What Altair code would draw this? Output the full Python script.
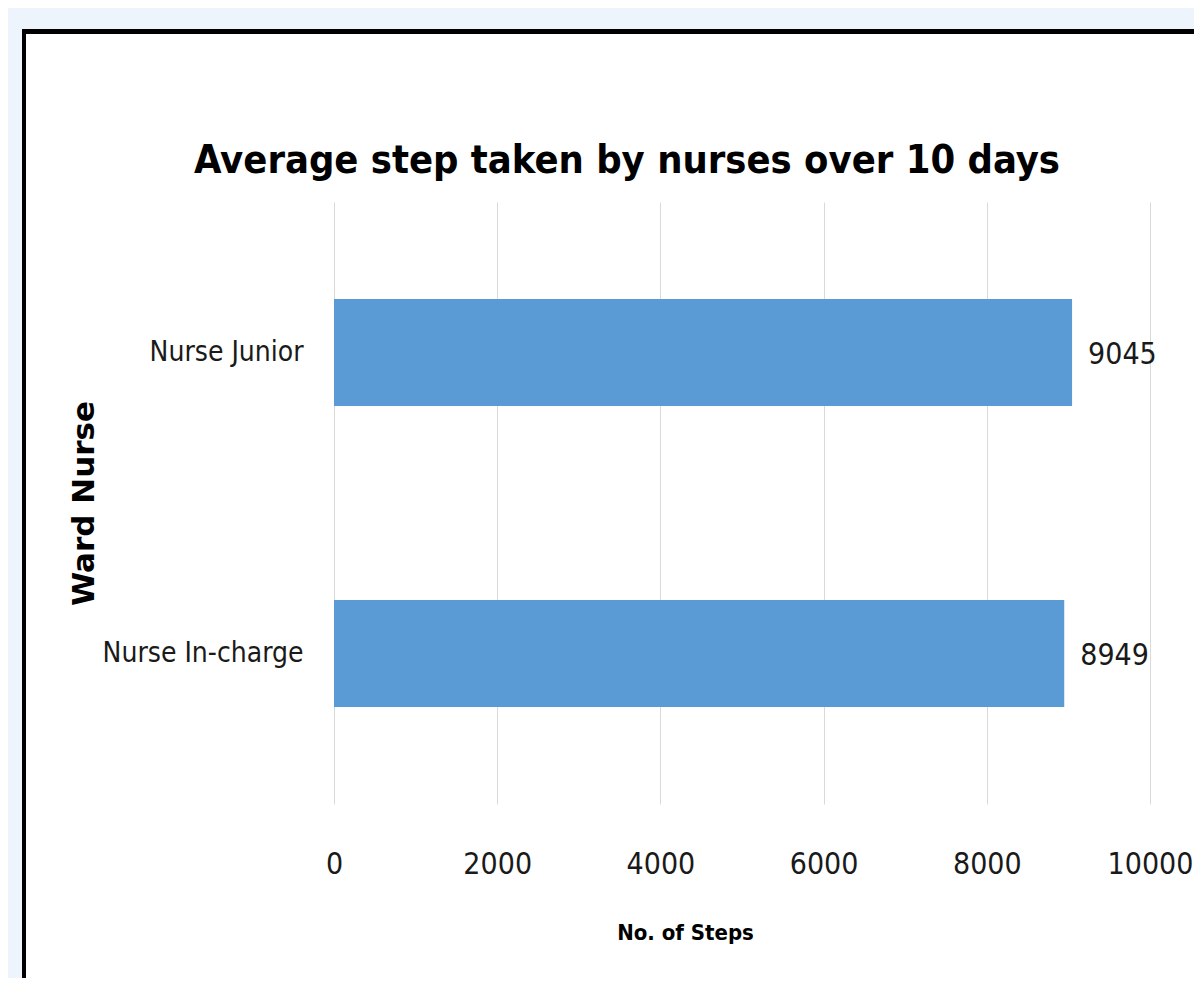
import altair as alt
import pandas as pd

categories = ["Nurse Junior", "Nurse In-charge"]
steps = [9045, 8949]
x_ticks = [0, 2000, 4000, 6000, 8000, 10000]
title_text = "Average step taken by nurses over 10 days"

df = pd.DataFrame({"nurse": categories, "steps": steps})
one = pd.DataFrame({"k": [0]})

NARROW = "DejaVu Sans Condensed, Liberation Sans Narrow, sans-serif"
BG = "#EDF4FB"
W, H = 816, 602
R, B = 860, 776

def box(x, x2, y, y2, color):
    return alt.Chart(one).mark_rect(color=color, strokeWidth=0).encode(
        x=alt.value(x), x2=alt.value(x2), y=alt.value(y), y2=alt.value(y2)
    )

deco = [
    box(-326, -312, -194, B, BG),
    box(-326, R, -194, -173, BG),
    box(-312, -308, -173, B, "#000000"),
    box(-312, R, -173, -168, "#000000"),
]

title = alt.Chart(one).mark_text(
    text=title_text, font=NARROW, fontSize=39.5, fontWeight="bold",
    align="center", baseline="alphabetic", color="#000000"
).encode(x=alt.value(293), y=alt.value(-29))

base = alt.Chart(df)

bars = base.mark_bar(size=107, color="#5B9BD5").encode(
    y=alt.Y("nurse:N", sort=categories, scale=alt.Scale(paddingInner=0, paddingOuter=0),
            axis=alt.Axis(title="Ward Nurse", ticks=False, domain=False, labelPadding=31,
                          labelFont=NARROW, labelFontSize=28, labelColor="#1a1a1a",
                          labelLimit=0,
                          titleFont="DejaVu Sans", titleFontSize=31, titleFontWeight="bold",
                          titleColor="#000000", titleAngle=270, titleAlign="center",
                          titleBaseline="alphabetic", titleX=-241, titleY=301, grid=False)),
    x=alt.X("steps:Q", scale=alt.Scale(domain=[0, 10000], nice=False),
            axis=alt.Axis(title="No. of Steps", values=x_ticks, format="d", ticks=False,
                          domain=False, labelPadding=69, labelBaseline="alphabetic",
                          labelFont=NARROW, labelFontSize=30,
                          labelColor="#1a1a1a", gridColor="#D9D9D9", gridWidth=1,
                          titleFont=NARROW, titleFontSize=22, titleFontWeight="bold",
                          titleColor="#000000", titleX=351, titleY=135,
                          titleAlign="center", titleBaseline="alphabetic",
                          labelFlush=False, labelOverlap=False)),
)

labels = base.mark_text(align="left", baseline="middle", dx=16, dy=2,
                        font=NARROW, fontSize=30, color="#1a1a1a").encode(
    y=alt.Y("nurse:N", sort=categories),
    x=alt.X("steps:Q"),
    text=alt.Text("steps:Q", format="d"),
)

chart = alt.layer(*deco, title, bars, labels).properties(
    width=W, height=H, background="#FFFFFF", padding=0
).configure_view(stroke=None)

chart.save("out.html", embed_options={"renderer": "svg", "actions": False})
